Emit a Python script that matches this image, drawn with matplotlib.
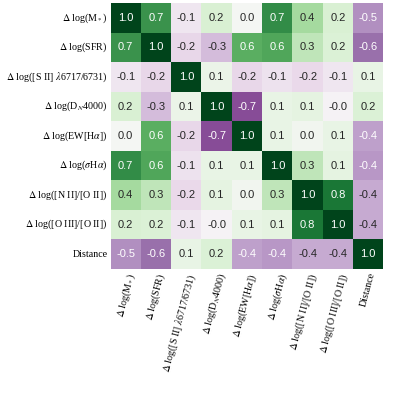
import matplotlib
matplotlib.use("Agg")
import matplotlib.pyplot as plt
import numpy as np
import seaborn as sns

plt.rcParams['font.family'] = ['Liberation Serif', 'DejaVu Serif']
plt.rcParams['mathtext.fontset'] = 'stix'

labels = [r"$\Delta$ log(M$_*$)", r"$\Delta$ log(SFR)",
          r"$\Delta$ log([S II] $\lambda$6717/6731)", r"$\Delta$ log(D$_N$4000)",
          r"$\Delta$ log(EW[H$\alpha$])", r"$\Delta$ log($\sigma$H$\alpha$)",
          r"$\Delta$ log([N II]/[O II])", r"$\Delta$ log([O III]/[O II])", "Distance"]

row_mstar = [1.0, 0.70, -0.10, 0.20, 0.02, 0.72, 0.40, 0.20, -0.48]
row_sfr = [0.70, 1.0, -0.18, -0.30, 0.60, 0.63, 0.30, 0.18, -0.60]
row_sii = [-0.10, -0.18, 1.0, 0.08, -0.18, -0.12, -0.17, -0.10, 0.10]
row_dn4000 = [0.20, -0.30, 0.08, 1.0, -0.70, 0.10, 0.12, -0.03, 0.18]
row_ew = [0.02, 0.60, -0.18, -0.70, 1.0, 0.10, 0.04, 0.10, -0.42]
row_sigma = [0.72, 0.63, -0.12, 0.10, 0.10, 1.0, 0.30, 0.12, -0.449]
row_nii = [0.40, 0.30, -0.17, 0.12, 0.04, 0.30, 1.0, 0.80, -0.38]
row_oiii = [0.20, 0.18, -0.10, -0.03, 0.10, 0.12, 0.80, 1.0, -0.38]
row_dist = [-0.48, -0.60, 0.10, 0.18, -0.42, -0.449, -0.38, -0.38, 1.0]

corr = np.array([row_mstar, row_sfr, row_sii, row_dn4000, row_ew,
                 row_sigma, row_nii, row_oiii, row_dist])

fig = plt.figure(figsize=(3.99, 3.99), dpi=100)
ax = fig.add_axes([0.277, 0.326, 0.684, 0.666])
sns.heatmap(corr, ax=ax, cmap='PRGn', vmin=-1, vmax=1, annot=True, fmt='.1f',
            cbar=False, xticklabels=labels, yticklabels=labels,
            annot_kws={'fontsize': 8, 'family': 'Liberation Sans'})
ax.tick_params(length=0, labelsize=7.2, pad=2)
plt.setp(ax.get_xticklabels(), rotation=75, ha='right', rotation_mode='anchor')
plt.setp(ax.get_yticklabels(), rotation=0)
fig.savefig("out.png", dpi=100)
